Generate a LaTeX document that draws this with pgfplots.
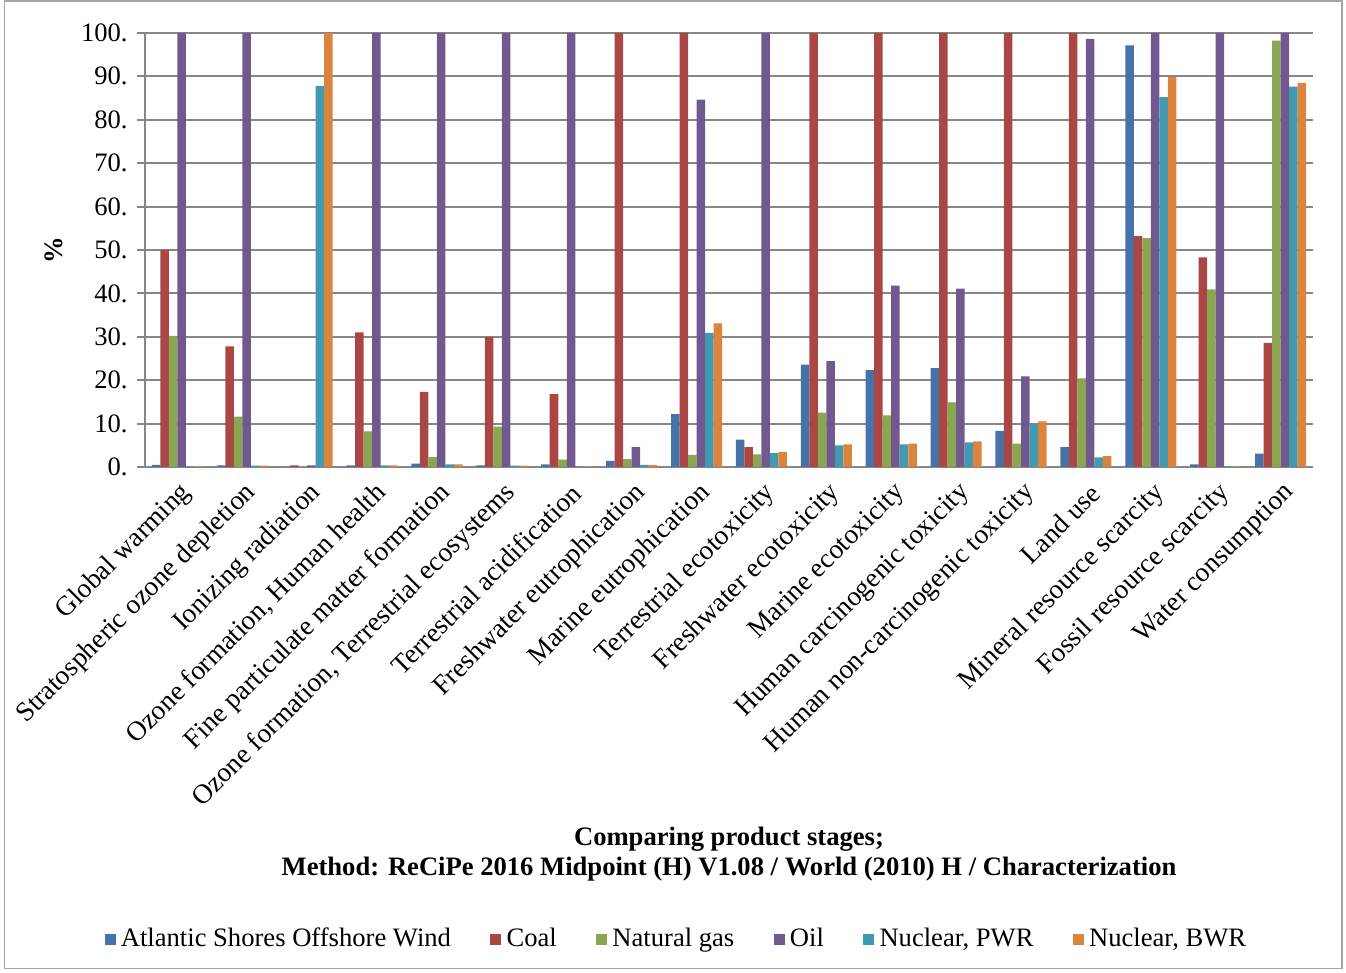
\documentclass[border=0pt]{standalone}
\usepackage{fontspec}
\setmainfont{Liberation Serif}
\usepackage{pgfplots}
\usepackage{pgfplotstable}
\pgfplotsset{compat=1.18}
\definecolor{cWind}{HTML}{4672A8}
\definecolor{cCoal}{HTML}{AA4644}
\definecolor{cGas}{HTML}{8BA650}
\definecolor{cOil}{HTML}{71588F}
\definecolor{cPWR}{HTML}{4299B0}
\definecolor{cBWR}{HTML}{DB843D}
\definecolor{gridc}{HTML}{878787}
\pgfplotstableread{
x wind coal gas oil pwr bwr
0  0.5  50.0 30.2 100  0.2  0.2
1  0.4  27.8 11.6 100  0.3  0.3
2  0.05 0.4  0.2  0.4  87.8 100
3  0.4  31.0 8.2  100  0.4  0.4
4  0.8  17.3 2.3  100  0.6  0.6
5  0.4  30.0 9.3  100  0.3  0.3
6  0.6  16.8 1.7  100  0.1  0.2
7  1.4  100  1.8  4.6  0.5  0.5
8  12.2 100  2.8  84.6 30.9 33.1
9  6.3  4.6  2.9  100  3.2  3.5
10 23.6 100  12.5 24.4 5.0  5.2
11 22.3 100  11.9 41.8 5.2  5.4
12 22.8 100  14.9 41.1 5.7  5.9
13 8.3  100  5.4  20.9 10.0 10.5
14 4.6  100  20.4 98.6 2.2  2.5
15 97.1 53.2 52.7 100  85.2 89.8
16 0.6  48.3 40.9 100  0.2  0.2
17 3.1  28.6 98.2 100  87.6 88.5
}\data
\begin{document}
\begin{tikzpicture}
\begin{axis}[
  name=ax,
  scale only axis, width=439.1pt, height=163.2pt,
  ybar=0pt, bar width=3.2pt,
  xmin=-0.5, xmax=17.5, ymin=0, ymax=100,
  axis x line*=bottom, axis y line*=left,
  axis line style={gridc, line width=0.75pt},
  xtick={0,...,17},
  xticklabels={Global warming,Stratospheric ozone depletion,Ionizing radiation,{Ozone formation, Human health},Fine particulate matter formation,{Ozone formation, Terrestrial ecosystems},Terrestrial acidification,Freshwater eutrophication,Marine eutrophication,Terrestrial ecotoxicity,Freshwater ecotoxicity,Marine ecotoxicity,Human carcinogenic toxicity,Human non-carcinogenic toxicity,Land use,Mineral resource scarcity,Fossil resource scarcity,Water consumption},
  x tick style={draw=none},
  minor xtick={-0.5,0.5,...,17.5},
  minor x tick style={gridc, line width=0.75pt},
  minor tick length=3pt,
  major tick length=3pt,
  tick align=outside,
  ytick={0,10,...,100},
  yticklabels={0.,10.,20.,30.,40.,50.,60.,70.,80.,90.,100.},
  y tick style={gridc, line width=0.75pt},
  ymajorgrids, grid style={gridc, line width=0.75pt},
  tick label style={font=\fontsize{10}{12}\selectfont},
  xticklabel style={rotate=45, anchor=east, xshift=2.4pt, yshift=-6.2pt, font=\fontsize{10.3}{12}\selectfont},
  ylabel={\textbf{\%}},
  ylabel style={font=\fontsize{10}{12}\selectfont},
  legend columns=6,
  legend style={at={(rel axis cs:0.4564,-1.088)}, anchor=center, draw=none, font=\fontsize{10}{12}\selectfont,
    /tikz/every even column/.append style={column sep=12.8pt}},
  legend image code/.code={\fill[#1] (0pt,-2pt) rectangle (4.1pt,2.1pt);},
  every axis plot/.append style={draw=none},
]
\addplot[fill=cWind] table[x=x,y=wind]{\data};
\addplot[fill=cCoal] table[x=x,y=coal]{\data};
\addplot[fill=cGas] table[x=x,y=gas]{\data};
\addplot[fill=cOil] table[x=x,y=oil]{\data};
\addplot[fill=cPWR] table[x=x,y=pwr]{\data};
\addplot[fill=cBWR] table[x=x,y=bwr]{\data};
\legend{Atlantic Shores Offshore Wind,Coal,Natural gas,Oil,{Nuclear, PWR},{Nuclear, BWR}}
\end{axis}
\node[align=center, font=\bfseries\fontsize{10}{11.3}\selectfont] at ([yshift=-145.5pt]ax.south) {Comparing product stages;\\Method: ReCiPe 2016 Midpoint (H) V1.08 / World (2010) H / Characterization};
\pgfresetboundingbox
\path[use as bounding box] ([shift={(-54.5pt,-189.85pt)}]ax.south west) rectangle ([shift={(451.5pt,175.56pt)}]ax.south west);
\draw[gray!70, line width=0.6pt] ([shift={(-52.8pt,-188.6pt)}]ax.south west) rectangle ([shift={(450.0pt,175.2pt)}]ax.south west);
\end{tikzpicture}
\end{document}
